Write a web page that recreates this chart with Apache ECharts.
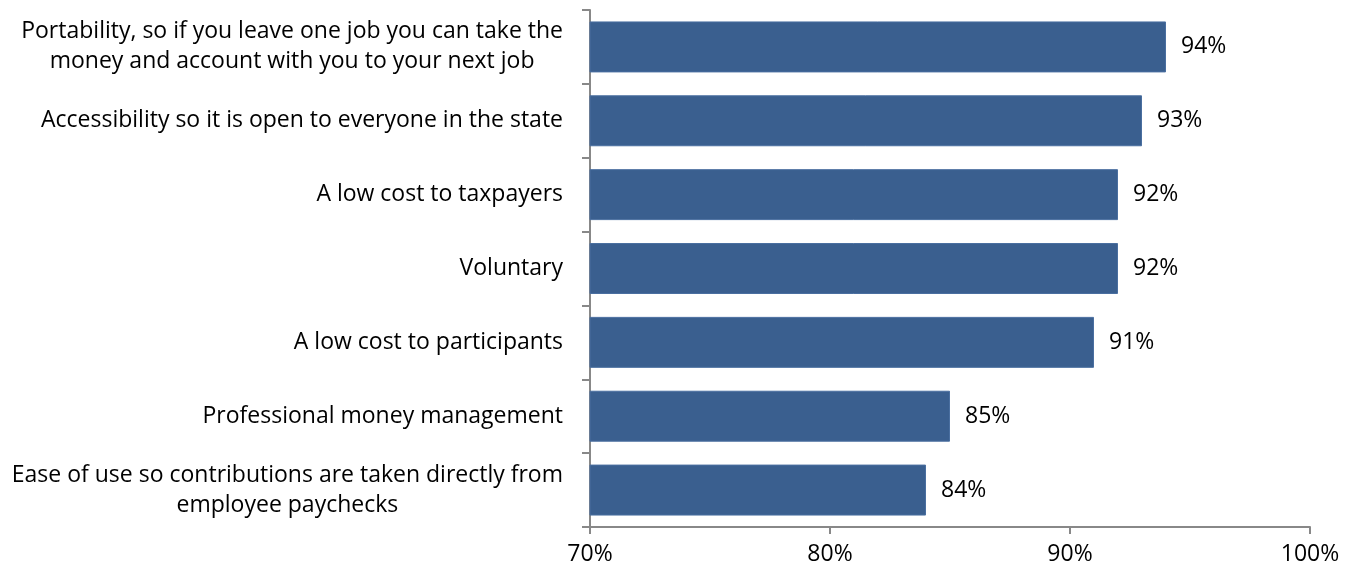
<!DOCTYPE html>
<html><head><meta charset="utf-8">
<script src="https://cdn.jsdelivr.net/npm/echarts@6/dist/echarts.min.js"></script>
<style>html,body{margin:0;padding:0;background:#fff}#c{width:1355px;height:571px}</style>
</head><body><div id="c"></div>
<script>
const categories = [
  "Portability, so if you leave one job you can take the\nmoney and account with you to your next job",
  "Accessibility so it is open to everyone in the state",
  "A low cost to taxpayers",
  "Voluntary",
  "A low cost to participants",
  "Professional money management",
  "Ease of use so contributions are taken directly from\nemployee paychecks"
];
const values = [94, 93, 92, 92, 91, 85, 84];
const xMin = 70, xMax = 100, xStep = 10;

const font = '"Open Sans", sans-serif';
const fontSize = 23;
const ctx = document.createElement('canvas').getContext('2d');
ctx.font = fontSize + 'px ' + font;
// multi-line labels: lines centred on each other, block right-aligned to the axis
const catData = categories.map(c => {
  if (c.indexOf('\n') < 0) return c;
  const w = Math.max(...c.split('\n').map(l => ctx.measureText(l).width));
  return {value: c, textStyle: {align: 'center', padding: [6, w, 0, 0]}};
});

const chart = echarts.init(document.getElementById('c'), null, {renderer: 'canvas'});
chart.setOption({
  animation: false,
  grid: {left: 590, right: 45, top: 10, bottom: 44},
  xAxis: {
    type: 'value', min: xMin, max: xMax, interval: xStep,
    axisLine: {show: true, lineStyle: {color: '#888', width: 2}},
    axisTick: {show: true, length: 7, lineStyle: {color: '#888', width: 2}},
    splitLine: {show: false},
    axisLabel: {formatter: v => v + '%', color: '#000', fontSize: fontSize, fontFamily: font, margin: 16}
  },
  yAxis: {
    type: 'category', data: catData, inverse: true,
    axisLine: {show: true, lineStyle: {color: '#888', width: 2}},
    axisTick: {show: true, length: 8, lineStyle: {color: '#888', width: 2}},
    axisLabel: {color: '#000', fontSize: fontSize, fontFamily: font, margin: 27, lineHeight: 30, padding: [6, 0, 0, 0]}
  },
  series: [{
    type: 'bar', data: values, barCategoryGap: '31%',
    itemStyle: {color: '#3A5F8F', borderColor: '#4A6FA0', borderWidth: 1},
    label: {show: true, position: 'right', distance: 15, formatter: p => p.value + '%',
      color: '#000', fontSize: fontSize, fontFamily: font, padding: [6, 0, 0, 0]}
  }]
});
</script></body></html>
